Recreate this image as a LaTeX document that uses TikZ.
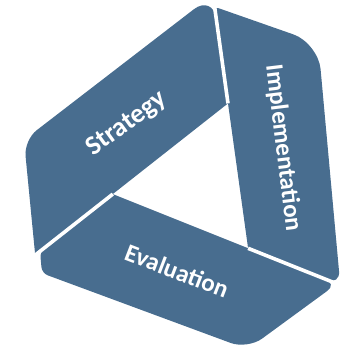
\documentclass[tikz,border=0pt]{standalone}
\usepackage{fontspec}
\setmainfont{Carlito}
\usetikzlibrary{calc}
\definecolor{barblue}{RGB}{72,109,143}
\newcommand\rc[5]{-- ($(#1)!#4!(#2)$) .. controls ($(#1)!#5!(#2)$) and ($(#1)!#5!(#3)$) .. ($(#1)!#4!(#3)$)}
\tikzset{
  bar/.style={fill=barblue},
  gap/.style={draw=white,line width=3.6pt},
  lbl/.style={text=white,font=\fontsize{25}{30}\selectfont\bfseries,inner sep=0pt}
}
\begin{document}
\begin{tikzpicture}[x=1pt,y=-1pt]
\useasboundingbox (0,0) rectangle (345,349);
% inner corners
\coordinate (P) at (228,103.4);
\coordinate (Q) at (112.8,194.1);
\coordinate (R) at (248.1,248.3);
% Strategy
\coordinate (A) at (212.9,-5.4);
\coordinate (F) at (24.0,140.0);
\coordinate (E) at (35.2,255.1);
% Implementation
\coordinate (It) at (214.6,6.8);
\coordinate (B) at (318.2,43.1);
\coordinate (CI) at (340.3,285.1);
% Evaluation
\coordinate (CE) at (337.0,283.8);
\coordinate (D) at (247.6,349.2);
\coordinate (G1) at (42.0,273.2);
\coordinate (G2) at (40.0,251.4);
% bars
\fill[bar] (E) -- (P) \rc{A}{P}{F}{24pt}{11pt} \rc{F}{A}{E}{16pt}{7.2pt} -- cycle;
\fill[bar] (R) \rc{It}{R}{B}{4pt}{1.8pt} \rc{B}{It}{CI}{26pt}{12pt} \rc{CI}{B}{R}{14pt}{6.3pt} -- cycle;
\fill[bar] (Q) \rc{CE}{Q}{D}{12pt}{5.4pt} \rc{D}{CE}{G1}{18pt}{8pt} \rc{G1}{D}{G2}{6pt}{2.7pt} \rc{G2}{G1}{Q}{6pt}{2.7pt} -- cycle;
% gaps
\coordinate (LIend) at ($(P)!1.2!(A)$);
\coordinate (LSend) at ($(Q)!1.25!(E)$);
\coordinate (LEend) at ($(R)!1.15!(CI)$);
\draw[gap] (P) -- (LIend);
\draw[gap] (Q) -- (LSend);
\draw[gap] (R) -- (LEend);
% labels
\node[lbl,rotate=36,font=\fontsize{27}{32}\selectfont\bfseries] (s) at (127,124) {Strategy};
\node[lbl,rotate=-83] (i) at (283,148) {Implementation};
\node[lbl,rotate=-21] (e) at (177,271) {Evaluation};
\end{tikzpicture}
\end{document}
